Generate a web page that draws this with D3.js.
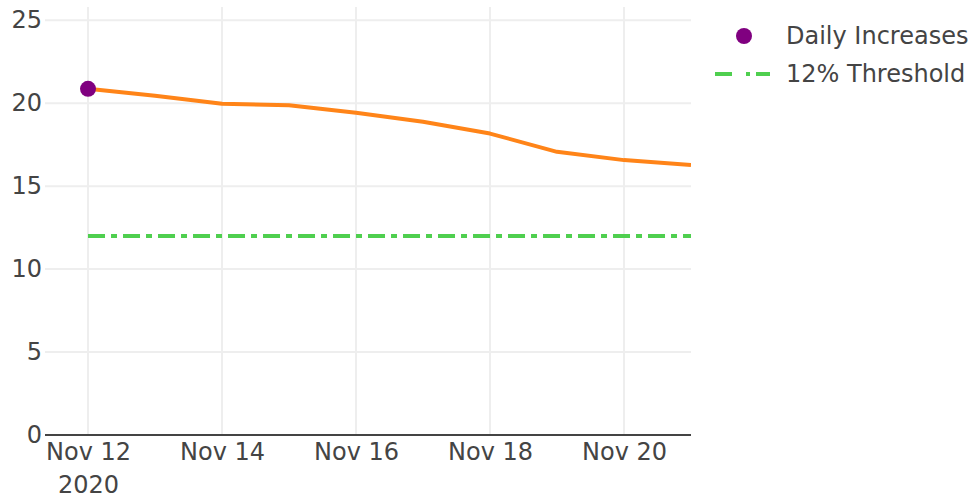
<!DOCTYPE html>
<html>
<head>
<meta charset="utf-8">
<script src="https://cdn.jsdelivr.net/npm/d3@7"></script>
<style>
  html, body { margin: 0; padding: 0; background: #fff; }
  svg { display: block; font-family: "DejaVu Sans", Verdana, sans-serif; }
</style>
</head>
<body>
<svg id="chart" width="974" height="498"></svg>
<script>
// ---- data ----
const dates = ["2020-11-12","2020-11-13","2020-11-14","2020-11-15","2020-11-16",
               "2020-11-17","2020-11-18","2020-11-19","2020-11-20","2020-11-21"];
const rollingValues = [20.87, 20.45, 19.97, 19.88, 19.42, 18.88, 18.17, 17.07, 16.57, 16.27];
const dailyDates = ["2020-11-12"];
const dailyValues = [20.87];
const thresholdValue = 12;
const yTicks = [0, 5, 10, 15, 20, 25];
const xTickDates = ["2020-11-12","2020-11-14","2020-11-16","2020-11-18","2020-11-20"];
const legendLabels = ["Daily Increases", "12% Threshold"];

// ---- layout ----
const parse = d3.utcParse("%Y-%m-%d");
const mLeft = 45, mRight = 691, mTop = 7, mBottom = 435;
const DAY = 86400000;
const firstDate = parse(dates[0]);
const lastDate = parse(dates[dates.length - 1]);

const x = d3.scaleUtc()
  .domain([new Date(+firstDate - 0.642 * DAY), lastDate])
  .range([mLeft, mRight]);
const y = d3.scaleLinear().domain([0, 25.8]).range([mBottom, mTop]);

const svg = d3.select("#chart");
const textColor = "#444";
const fontSize = 24;
const fontFam = "DejaVu Sans, Verdana, sans-serif";

// clip
svg.append("defs").append("clipPath").attr("id", "clip")
  .append("rect").attr("x", mLeft).attr("y", mTop - 10)
  .attr("width", mRight - mLeft).attr("height", mBottom - mTop + 10);

// gridlines
const grid = svg.append("g");
grid.selectAll(".vg").data(xTickDates).join("line")
  .attr("x1", d => x(parse(d))).attr("x2", d => x(parse(d)))
  .attr("y1", mTop).attr("y2", mBottom)
  .attr("stroke", "#eeeeee").attr("stroke-width", 2);
grid.selectAll(".hg").data(yTicks.filter(t => t > 0)).join("line")
  .attr("x1", mLeft).attr("x2", mRight)
  .attr("y1", d => y(d)).attr("y2", d => y(d))
  .attr("stroke", "#eeeeee").attr("stroke-width", 2);

// y axis labels
const yAxis = d3.axisLeft(y).tickValues(yTicks).tickSize(0).tickPadding(3);
const yg = svg.append("g").attr("transform", `translate(${mLeft},0)`).call(yAxis);
yg.select(".domain").remove();
yg.selectAll("text").attr("fill", textColor).attr("font-size", fontSize)
  .attr("font-family", fontFam);

// x axis
const fmt = d3.utcFormat("%b %-d");
const xAxis = d3.axisBottom(x).tickValues(xTickDates.map(parse)).tickSize(0).tickPadding(8)
  .tickFormat(fmt);
const xg = svg.append("g").attr("transform", `translate(0,${mBottom})`).call(xAxis);
xg.select(".domain").remove();
xg.selectAll("text").attr("fill", textColor).attr("font-size", fontSize)
  .attr("font-family", fontFam);
xg.selectAll(".tick").filter((d, i) => i === 0).append("text")
  .attr("y", 41).attr("dy", "0.71em").attr("fill", textColor)
  .attr("font-size", fontSize).attr("text-anchor", "middle")
  .attr("font-family", fontFam)
  .text(d3.utcFormat("%Y")(firstDate));
xg.append("line").attr("x1", mLeft).attr("x2", mRight).attr("y1", 0).attr("y2", 0)
  .attr("stroke", "#444").attr("stroke-width", 2);

const plot = svg.append("g").attr("clip-path", "url(#clip)");

// threshold line
plot.append("line")
  .attr("x1", x(firstDate)).attr("x2", x(lastDate))
  .attr("y1", y(thresholdValue)).attr("y2", y(thresholdValue))
  .attr("stroke", "#4fcf4f").attr("stroke-width", 4)
  .attr("stroke-dasharray", "17,6,6,6");

// rolling line
const line = d3.line().x(d => x(parse(d.date))).y(d => y(d.v));
plot.append("path")
  .datum(dates.map((d, i) => ({ date: d, v: rollingValues[i] })))
  .attr("d", line).attr("fill", "none")
  .attr("stroke", "#ff8418").attr("stroke-width", 4)
  .attr("stroke-linejoin", "round");

// daily markers
svg.append("g").selectAll("circle").data(dailyDates.map((d, i) => ({ date: d, v: dailyValues[i] })))
  .join("circle")
  .attr("cx", d => x(parse(d.date))).attr("cy", d => y(d.v)).attr("r", 8)
  .attr("fill", "#800080");

// legend
const lg = svg.append("g");
lg.append("circle").attr("cx", 744).attr("cy", 36).attr("r", 8).attr("fill", "#800080");
lg.append("line").attr("x1", 715).attr("x2", 770).attr("y1", 74).attr("y2", 74)
  .attr("stroke", "#4fcf4f").attr("stroke-width", 4).attr("stroke-dasharray", "17,14,4,6");
lg.selectAll("text.lt").data(legendLabels).join("text")
  .attr("x", 786).attr("y", (d, i) => 36 + i * 38).attr("dy", "0.35em")
  .attr("fill", textColor).attr("font-size", fontSize)
  .attr("font-family", fontFam)
  .text(d => d);
</script>
</body>
</html>
